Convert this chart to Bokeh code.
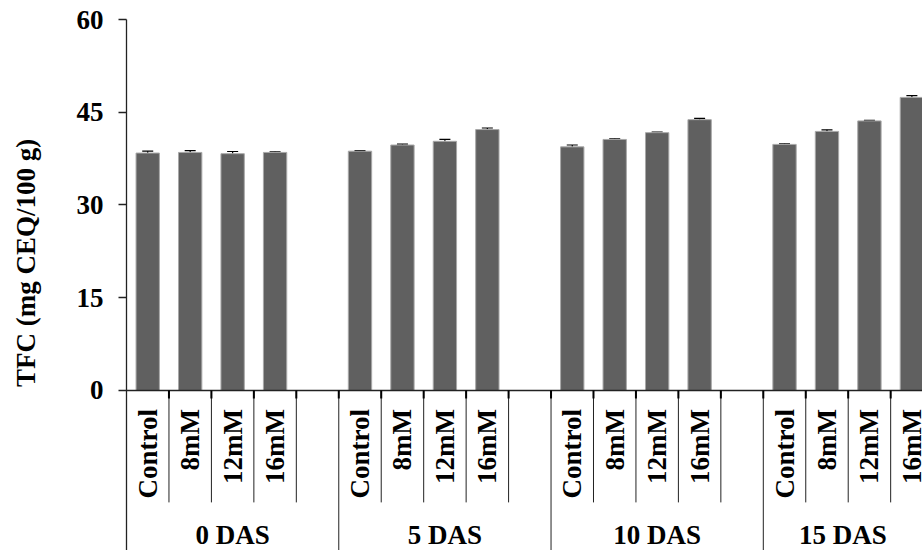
import math
from bokeh.plotting import figure
from bokeh.layouts import row
from bokeh.models import (ColumnDataSource, Range1d, LinearAxis, FixedTicker,
                          Whisker, TeeHead)
from bokeh.core.properties import value
from bokeh.embed import file_html
from bokeh.resources import INLINE

# Total flavonoid content by storage time and CaCl2 treatment
groups = ["0 DAS", "5 DAS", "10 DAS", "15 DAS"]
treatments = ["Control", "8mM", "12mM", "16mM"]
tfc_0 = [38.4, 38.5, 38.3, 38.5]
tfc_5 = [38.7, 39.7, 40.3, 42.2]
tfc_10 = [39.4, 40.6, 41.7, 43.8]
tfc_15 = [39.8, 41.9, 43.6, 47.4]
err_0 = [0.3, 0.3, 0.35, 0.1]
err_5 = [0.1, 0.15, 0.3, 0.25]
err_10 = [0.3, 0.1, 0.1, 0.2]
err_15 = [0.1, 0.25, 0.1, 0.3]
y_ticks = [0, 15, 30, 45, 60]
y_title = "TFC (mg CEQ/100 g)"

FONT_NAME = "Liberation Serif"
FONT = value(FONT_NAME)
FS = "27px"
SLOTS_PER_GROUP = len(treatments) + 1   # one empty slot after every group

X_START, X_END = 0, 18.75
Y_START, Y_END = -25.88, 60
H = 550
TITLE_W = 62

tfc = [tfc_0, tfc_5, tfc_10, tfc_15]
err = [err_0, err_5, err_10, err_15]
xs, tops, lows, highs, labels = [], [], [], [], []
for g, (vals, errs) in enumerate(zip(tfc, err)):
    for t, (v, e) in enumerate(zip(vals, errs)):
        xs.append(g * SLOTS_PER_GROUP + t + 0.5)
        tops.append(v)
        lows.append(v - e)
        highs.append(v + e)
        labels.append(treatments[t])
src = ColumnDataSource(dict(x=xs, top=tops, lower=lows, upper=highs, label=labels))

# narrow strip on the left that holds the rotated value-axis title
tp = figure(width=TITLE_W, height=H, output_backend="svg", toolbar_location=None,
            x_range=Range1d(0, TITLE_W), y_range=Range1d(0, H),
            x_axis_location=None, y_axis_location=None, min_border=0)
tp.outline_line_color = None
tp.grid.visible = False
tp.text(x=[25], y=[H - 252], text=[y_title], angle=math.pi / 2,
        text_align="center", text_baseline="middle", text_font=FONT,
        text_font_style="bold", text_font_size=FS, text_color="black")

p = figure(width=922 - TITLE_W, height=H, output_backend="svg", toolbar_location=None,
           x_range=Range1d(X_START, X_END), y_range=Range1d(Y_START, Y_END),
           x_axis_location=None, y_axis_location=None,
           min_border_left=126 - TITLE_W, min_border_right=0, min_border_top=19,
           min_border_bottom=0)
p.outline_line_color = None
p.grid.visible = False
p.background_fill_color = "white"

# value axis; its line continues down as the left edge of the category table
yax = LinearAxis(ticker=FixedTicker(ticks=y_ticks), bounds=(Y_START, 60))
yax.major_tick_out = 8
yax.major_tick_in = 0
yax.minor_tick_line_color = None
yax.axis_line_color = "#222222"
yax.axis_line_width = 1.3
yax.major_tick_line_color = "#222222"
yax.major_tick_line_width = 1.3
yax.major_label_standoff = 15
yax.major_label_text_font = FONT_NAME
yax.major_label_text_font_style = "bold"
yax.major_label_text_font_size = FS
yax.major_label_text_color = "black"
p.add_layout(yax, "left")

# bars and error bars
p.vbar(x="x", top="top", bottom=0, width=0.55, source=src,
       fill_color="#606060", line_color="#a8a8a8", line_width=1)
whisk = Whisker(base="x", lower="lower", upper="upper", source=src,
                line_color="black", line_width=1.2,
                upper_head=TeeHead(size=11, line_color="black", line_width=1.2),
                lower_head=TeeHead(size=11, line_color="black", line_width=1.2))
p.add_layout(whisk)

# category baseline
p.segment(x0=[0], y0=[0], x1=[X_END], y1=[0], line_color="#222222", line_width=1.5)

# separators of the category table
n_slots = SLOTS_PER_GROUP * len(groups)
tick_depth = 8 / ((H - 19) / (Y_END - Y_START))
inner_x = [s for s in range(n_slots) if s % SLOTS_PER_GROUP != 0]
group_x = [s for s in range(1, n_slots) if s % SLOTS_PER_GROUP == 0]
p.segment(x0=inner_x, y0=[0] * len(inner_x), x1=inner_x, y1=[-18.1] * len(inner_x),
          line_color="#222222", line_width=1)
p.segment(x0=group_x, y0=[0] * len(group_x), x1=group_x, y1=[Y_START] * len(group_x),
          line_color="#222222", line_width=1)
tick_x = list(range(1, n_slots))
p.segment(x0=tick_x, y0=[0] * len(tick_x), x1=tick_x, y1=[-tick_depth] * len(tick_x),
          line_color="black", line_width=2)

# treatment labels, rotated
p.text(x="x", y=-3.0, text="label", source=src, angle=math.pi / 2,
       text_align="right", text_baseline="middle", text_font=FONT,
       text_font_style="bold", text_font_size=FS, text_color="black")

# group labels
gx = []
for g in range(len(groups)):
    a = g * SLOTS_PER_GROUP
    b = min(a + SLOTS_PER_GROUP, X_END)
    gx.append((a + b) / 2)
p.text(x=gx, y=[-23.4] * len(groups), text=groups, text_align="center",
       text_baseline="middle", text_font=FONT, text_font_style="bold",
       text_font_size=FS, text_color="black")

layout = row(tp, p, spacing=0)
open("out.html", "w").write(file_html(layout, INLINE))
